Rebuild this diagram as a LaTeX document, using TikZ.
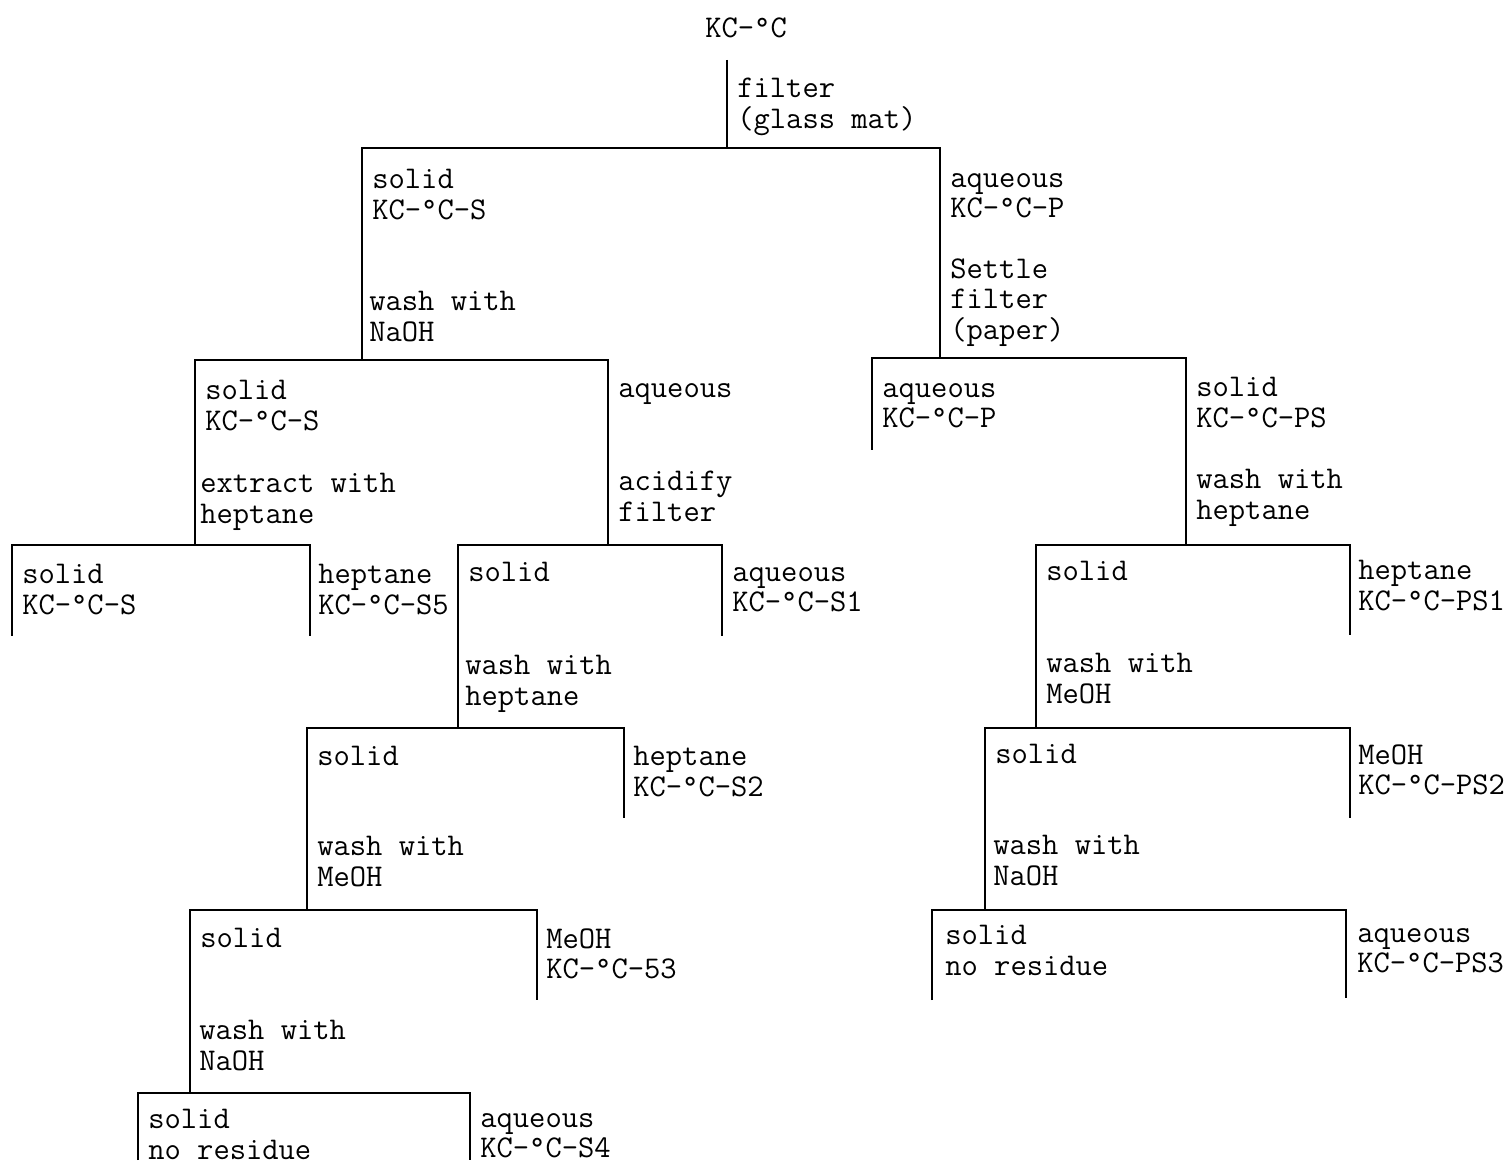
\documentclass[tikz,border=0pt]{standalone}
\usepackage{fontspec}
\begin{document}
\begin{tikzpicture}[x=0.02cm,y=-0.02cm]
    \tikzset{lbl/.style = {anchor=north west,inner sep=0pt,align=left,font=\ttfamily\fontsize{18}{17.4}\selectfont}}
    \tikzset{leg/.style = {line width=1pt}}
    \useasboundingbox (0,0) rectangle (1509,1165);
    % legs of the tree: name/x/top/bottom
    \foreach \n/\x/\ya/\yb in {r/727/60/148,
        S/362/148/360, P/940/148/358,
        SS/195/360/545, SA/608/360/545, PA/872/358/450, PS/1186/358/545,
        SSs/12/545/636, SSh/310/545/636, SAs/458/545/728, SAa/722/545/636,
        Ts/307/728/910, Th/624/728/818, Us/190/910/1093, Um/537/910/1000,
        Vs/138/1093/1160, Va/470/1093/1160,
        PSs/1036/545/728, PSh/1350/545/635, PTs/985/728/910, PTm/1350/728/818,
        PUs/932/910/1000, PUa/1346/910/998}
        {\coordinate (\n-t) at (\x,\ya); \coordinate (\n-b) at (\x,\yb);}
    \draw[leg] (r-t) -- (r-b);
    \foreach \l/\r in {S/P, SS/SA, PA/PS, SSs/SSh, SAs/SAa, Ts/Th, Us/Um, Vs/Va,
        PSs/PSh, PTs/PTm, PUs/PUa}
        \draw[leg] (\l-b) -- (\l-t) -- (\r-t) -- (\r-b);
    % labels
    \node[lbl] (root) at (705,17) {KC-°C};
    \node[lbl] (filt) at (737,78) {filter\\(glass mat)};
    \node[lbl] (sol) at (372,169) {solid\\KC-°C-S};
    \node[lbl] (washa) at (369,291) {wash with\\NaOH};
    \node[lbl] (aq) at (950,173) {aqueous\\KC-°C-P};
    \node[lbl] (settle) at (950,258) {Settle\\filter\\(paper)};
    \node[lbl] (solS) at (205,380) {solid\\KC-°C-S};
    \node[lbl] (extr) at (200,473) {extract with\\heptane};
    \node[lbl] (aqS) at (618,383) {aqueous};
    \node[lbl] (acid) at (618,471) {acidify\\filter};
    \node[lbl] (aqP) at (882,383) {aqueous\\KC-°C-P};
    \node[lbl] (solP) at (1196,377) {solid\\KC-°C-PS};
    \node[lbl] (washb) at (1196,469) {wash with\\heptane};
    \node[lbl] (solSS) at (22,564) {solid\\KC-°C-S};
    \node[lbl] (hepS5) at (318,564) {heptane\\KC-°C-S5};
    \node[lbl] (solA) at (468,562) {solid};
    \node[lbl] (washc) at (465,655) {wash with\\heptane};
    \node[lbl] (aqS1) at (732,567) {aqueous\\KC-°C-S1};
    \node[lbl] (solT) at (317,746) {solid};
    \node[lbl] (washd) at (317,836) {wash with\\MeOH};
    \node[lbl] (hepS2) at (633,746) {heptane\\KC-°C-S2};
    \node[lbl] (solU) at (200,928) {solid};
    \node[lbl] (washe) at (199,1020) {wash with\\NaOH};
    \node[lbl] (meS3) at (546,928) {MeOH\\KC-°C-53};
    \node[lbl] (solV) at (148,1109) {solid\\no residue};
    \node[lbl] (aqS4) at (480,1113) {aqueous\\KC-°C-S4};
    \node[lbl] (solPS) at (1046,561) {solid};
    \node[lbl] (washf) at (1046,653) {wash with\\MeOH};
    \node[lbl] (hepPS1) at (1358,560) {heptane\\KC-°C-PS1};
    \node[lbl] (solPT) at (995,744) {solid};
    \node[lbl] (washg) at (993,835) {wash with\\NaOH};
    \node[lbl] (mePS2) at (1358,744) {MeOH\\KC-°C-PS2};
    \node[lbl] (solPU) at (945,925) {solid\\no residue};
    \node[lbl] (aqPS3) at (1357,928) {aqueous\\KC-°C-PS3};
\end{tikzpicture}
\end{document}
